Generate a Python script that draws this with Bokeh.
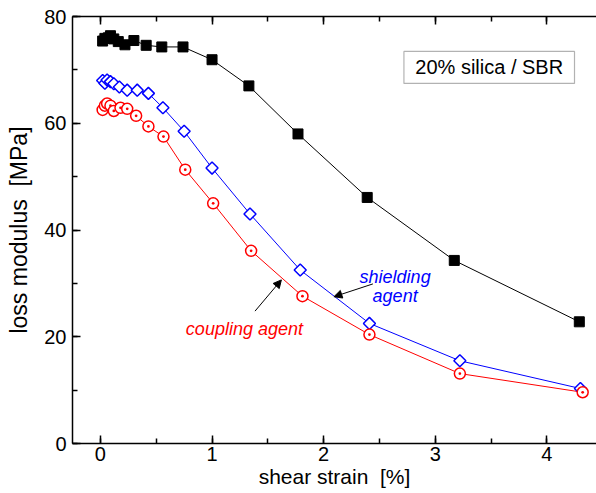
import math
from bokeh.plotting import figure
from bokeh.models import (Range1d, LinearAxis, SingleIntervalTicker, Label, Arrow,
                          NormalHead, BoxAnnotation, ColumnDataSource)
from bokeh.embed import file_html
from bokeh.resources import INLINE

# ---- data ----
black_strain = [0.02, 0.04, 0.07, 0.09, 0.12, 0.16, 0.22, 0.30, 0.41, 0.55, 0.74, 1.00, 1.33, 1.77, 2.39, 3.17, 4.29]
black_modulus = [75.4, 75.9, 76.0, 76.4, 75.8, 75.3, 74.7, 75.5, 74.6, 74.3, 74.3, 71.9, 67.0, 58.0, 46.1, 34.3, 22.8]

shield_strain = [0.02, 0.04, 0.06, 0.09, 0.12, 0.17, 0.24, 0.33, 0.43, 0.56, 0.75, 1.00, 1.34, 1.79, 2.41, 3.22, 4.30]
shield_modulus = [68.0, 67.5, 68.1, 67.8, 67.4, 66.8, 66.2, 66.2, 65.6, 62.9, 58.5, 51.6, 43.0, 32.5, 22.5, 15.5, 10.3]

coupling_strain = [0.02, 0.04, 0.06, 0.09, 0.12, 0.18, 0.24, 0.32, 0.43, 0.565, 0.76, 1.01, 1.35, 1.81, 2.41, 3.22, 4.32]
coupling_modulus = [62.5, 63.3, 63.7, 63.3, 62.3, 62.9, 62.7, 61.4, 59.4, 57.5, 51.3, 45.0, 36.1, 27.6, 20.4, 13.1, 9.6]

x_tick_interval = 1
y_tick_interval = 20

FONT = "Liberation Sans"
NB = "\u00a0"

p = figure(width=596, height=493, output_backend="svg", toolbar_location=None,
           x_range=Range1d(-0.25, 4.444), y_range=Range1d(0, 80),
           min_border_left=72, min_border_right=0, min_border_top=16, min_border_bottom=50,
           x_axis_label="shear strain" + NB + " [%]",
           y_axis_label="loss modulus" + NB + " [MPa]")
p.outline_line_color = None
p.xgrid.visible = False
p.ygrid.visible = False
p.background_fill_color = "white"
p.border_fill_color = "white"

def style_axis(ax, labels=True, tick_font="20px"):
    ax.major_tick_in = 8
    ax.major_tick_out = 0
    ax.minor_tick_in = 5
    ax.minor_tick_out = 0
    ax.axis_line_width = 1.5
    ax.major_tick_line_width = 1.5
    ax.minor_tick_line_width = 1.5
    ax.axis_line_color = "black"
    ax.major_tick_line_color = "black"
    ax.minor_tick_line_color = "black"
    ax.major_label_text_font = FONT
    if labels:
        ax.major_label_text_color = "black"
        ax.major_label_text_font_size = tick_font
    else:
        ax.major_label_text_color = None
        ax.major_label_text_font_size = "1px"
        ax.major_label_standoff = 0

xa = p.xaxis[0]
xa.ticker = SingleIntervalTicker(interval=x_tick_interval, num_minor_ticks=2)
style_axis(xa)
xa.major_label_standoff = 3
xa.axis_label_standoff = 1
xa.axis_label_text_font = FONT
xa.axis_label_text_font_size = "21px"
xa.axis_label_text_font_style = "normal"
xa.axis_label_text_color = "black"

ya = p.yaxis[0]
ya.ticker = SingleIntervalTicker(interval=y_tick_interval, num_minor_ticks=2)
style_axis(ya)
ya.major_label_standoff = 6
ya.axis_label_standoff = 9
ya.axis_label_text_font = FONT
ya.axis_label_text_font_size = "23px"
ya.axis_label_text_font_style = "normal"
ya.axis_label_text_color = "black"

top = LinearAxis(ticker=SingleIntervalTicker(interval=x_tick_interval, num_minor_ticks=2))
style_axis(top, labels=False)
p.add_layout(top, "above")

# ---- series ----
src_b = ColumnDataSource(dict(x=black_strain, y=black_modulus))
src_s = ColumnDataSource(dict(x=shield_strain, y=shield_modulus))
src_c = ColumnDataSource(dict(x=coupling_strain, y=coupling_modulus))

p.line("x", "y", source=src_b, line_color="black", line_width=1)
p.line("x", "y", source=src_s, line_color="#0000ff", line_width=1)
p.line("x", "y", source=src_c, line_color="#ff0000", line_width=1)

p.scatter("x", "y", source=src_b, marker="square", size=10, fill_color="black", line_color="black")
p.scatter("x", "y", source=src_s, marker="square", angle=math.pi / 4, size=8.5,
          fill_color="white", line_color="#0000ff", line_width=1.5)
p.scatter("x", "y", source=src_c, marker="circle_dot", size=11,
          fill_color="white", line_color="#ff0000", line_width=1.5)

# ---- annotations ----
box = BoxAnnotation(left=2.719, right=4.247, bottom=67.47, top=73.46,
                    fill_color="white", fill_alpha=1.0, line_color="black", line_width=1.2)
p.add_layout(box)
p.add_layout(Label(x=3.483, y=70.46, text="20% silica / SBR", text_font=FONT,
                   text_font_size="20px", text_align="center", text_baseline="middle",
                   text_color="black"))

p.add_layout(Label(x=2.64, y=31.2, text="shielding", text_font=FONT, text_font_size="18px",
                   text_font_style="italic", text_color="#0000ff", text_align="center",
                   text_baseline="alphabetic"))
p.add_layout(Label(x=2.64, y=27.6, text="agent", text_font=FONT, text_font_size="18px",
                   text_font_style="italic", text_color="#0000ff", text_align="center",
                   text_baseline="alphabetic"))
p.add_layout(Label(x=1.29, y=21.5, text="coupling agent", text_font=FONT, text_font_size="18px",
                   text_font_style="italic", text_color="#ff0000", text_align="center",
                   text_baseline="alphabetic"))

p.add_layout(Arrow(end=NormalHead(size=8, fill_color="black", line_color="black", line_width=1),
                   x_start=2.441, y_start=29.9, x_end=2.092, y_end=27.5,
                   line_color="black", line_width=1))
p.add_layout(Arrow(end=NormalHead(size=8, fill_color="black", line_color="black", line_width=1),
                   x_start=1.385, y_start=24.8, x_end=1.621, y_end=30.65,
                   line_color="black", line_width=1))

open("out.html", "w").write(file_html(p, INLINE))
